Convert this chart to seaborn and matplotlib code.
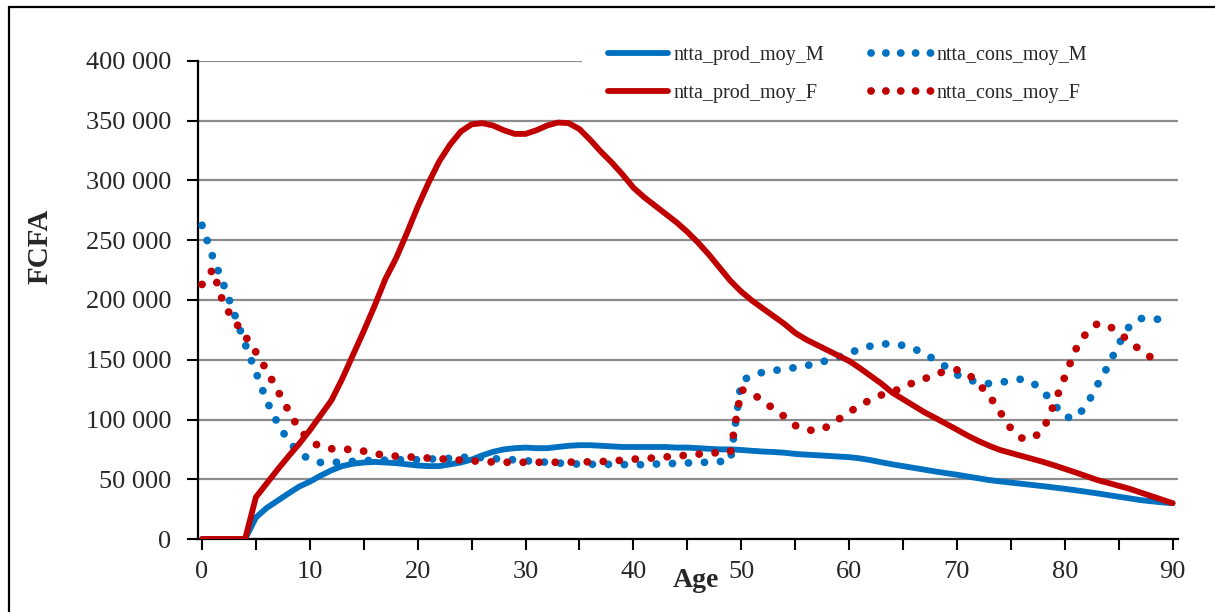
import numpy as np
import pandas as pd
import matplotlib
matplotlib.use("Agg")
import matplotlib.pyplot as plt
import seaborn as sns
from matplotlib.lines import Line2D
from matplotlib.patches import Rectangle
from matplotlib.ticker import FuncFormatter, MultipleLocator

# ---------------- data ----------------
ages = list(range(0, 91))

prod_M = [0, 0, 0, 0, 0, 18000, 26000, 32000, 38000, 43800,
          48000, 53000, 57500, 61000, 63000, 64000, 64500, 64000, 63500, 62500,
          61500, 61000, 61000, 62500, 64000, 66500, 70000, 73000, 75000, 76000,
          76500, 76000, 76000, 77000, 78000, 78500, 78500, 78000, 77500, 77000,
          77000, 77000, 77000, 77000, 76500, 76500, 76000, 75500, 75000, 75000,
          74500, 73800, 73200, 72800, 72200, 71200, 70600, 70100, 69600, 69000,
          68500, 67500, 66000, 64200, 62500, 61000, 59500, 58000, 56500, 55100,
          53800, 52300, 50800, 49300, 48200, 47200, 46200, 45200, 44200, 43100,
          42000, 40800, 39500, 38200, 36800, 35400, 34000, 32600, 31600, 30700,
          29900]

prod_F = [0, 0, 0, 0, 0, 35000, 46500, 58000, 69000, 79500,
          91000, 103500, 116000, 134000, 154000, 174000, 195000, 217500, 235000, 256000,
          278000, 298000, 316000, 330000, 341000, 347000, 348000, 346000, 342000, 339000,
          339000, 342000, 346000, 348500, 348000, 343000, 334000, 324000, 315000, 305000,
          294000, 286000, 279000, 272000, 265000, 257000, 248000, 238000, 227000, 216000,
          207000, 199500, 193000, 186500, 180000, 172500, 167000, 162500, 158000, 153500,
          149000, 143000, 136500, 130000, 122500, 117000, 111500, 106000, 101300, 96400,
          91500, 86500, 82000, 78000, 74500, 72000, 69500, 67000, 64500, 61700,
          58700, 55700, 52600, 49400, 47000, 44500, 42000, 39000, 36000, 33000,
          30000]

cons_M = [262500, 236000, 213000, 188500, 163000, 139500, 115500, 97100, 82300, 72000,
          66500, 64000, 64000, 64500, 65000, 65500, 66000, 66000, 66200, 66500,
          66300, 66800, 67300, 67500, 68200, 68800, 68000, 67300, 66700, 66200,
          65500, 64800, 64200, 63600, 63000, 62700, 62500, 62500, 62500, 62300,
          62000, 62300, 62700, 63000, 63300, 63600, 64000, 64300, 64800, 65500,
          132000, 137000, 139500, 141000, 142000, 143500, 145000, 147000, 149500, 152300,
          155700, 158800, 161500, 163200, 163300, 162000, 159300, 155000, 149800, 144000,
          137500, 133500, 131000, 130000, 131000, 132500, 133800, 131000, 123500, 113000,
          102000, 101500, 111500, 128500, 144500, 163000, 178200, 184500, 184500, 183500,
          186000]

cons_F = [213000, 225500, 196500, 182700, 169900, 156400, 141200, 124400, 107800, 92000,
          82300, 77000, 75500, 75000, 75000, 73500, 71500, 70000, 69300, 68800,
          68300, 67700, 67100, 66600, 66000, 65400, 64900, 64400, 64200, 64200,
          64200, 64200, 64200, 64200, 64300, 64400, 64600, 64800, 65200, 66000,
          66800, 67300, 67900, 68700, 69300, 70200, 71000, 71800, 72300, 73000,
          125000, 122000, 115500, 109000, 102500, 95000, 91500, 90500, 94000, 100000,
          106000, 112000, 116500, 120500, 123000, 127000, 131000, 134000, 138000, 140500,
          141500, 138500, 130000, 120000, 106300, 92500, 84500, 84000, 91300, 112700,
          135600, 158400, 172500, 180000, 179000, 172500, 165500, 158000, 152000, 146400,
          np.nan]

labels = ["ntta_prod_moy_M", "ntta_prod_moy_F", "ntta_cons_moy_M", "ntta_cons_moy_F"]
x_ticks = list(range(0, 91, 10))
y_ticks = list(range(0, 400001, 50000))

# ---------------- figure ----------------
sns.set_style("white")
plt.rcParams['font.family'] = ['Liberation Serif', 'DejaVu Serif']

W, H = 1215, 612
fig = plt.figure(figsize=(W / 100, H / 100), dpi=100)
ax = fig.add_axes([198 / W, 1 - 539 / H, (1178 - 198) / W, (539 - 61) / H])

BLUE = '#0070C0'
RED = '#C00000'
LW_SOLID = 4.2
LW_DOT = 5.6
dot_style = (0, (0.01, 2.05))

df = pd.DataFrame({"age": ages, "prod_M": prod_M, "prod_F": prod_F,
                   "cons_M": cons_M, "cons_F": cons_F})

sns.lineplot(data=df, x="age", y="prod_M", color=BLUE, lw=LW_SOLID, ax=ax, zorder=3)
sns.lineplot(data=df, x="age", y="prod_F", color=RED, lw=LW_SOLID, ax=ax, zorder=4)
sns.lineplot(data=df, x="age", y="cons_M", color=BLUE, lw=LW_DOT, ax=ax,
             linestyle=dot_style, dash_capstyle='round', zorder=3)
sns.lineplot(data=df, x="age", y="cons_F", color=RED, lw=LW_DOT, ax=ax,
             linestyle=dot_style, dash_capstyle='round', zorder=4)

ax.set_xlim(-0.37, 90.5)
ax.set_ylim(0, 400000)
ax.set_xticks(x_ticks)
ax.xaxis.set_minor_locator(MultipleLocator(5))
ax.set_yticks(y_ticks)
ax.yaxis.set_major_formatter(FuncFormatter(lambda v, p: f"{int(v):,}".replace(",", " ")))
ax.set_xlabel("")
ax.set_ylabel("")

ax.tick_params(axis='x', which='both', direction='out', length=8, width=1.5,
               color='black', pad=8, labelsize=19, bottom=True)
ax.tick_params(axis='y', which='both', direction='out', length=8, width=1.5,
               color='black', pad=11, labelsize=19, left=True)

ax.yaxis.grid(True, color='#8c8c8c', lw=1.6)
ax.xaxis.grid(False)
ax.set_axisbelow(True)
for s in ['top', 'right']:
    ax.spines[s].set_visible(False)
for s in ['left', 'bottom']:
    ax.spines[s].set_color('black')
    ax.spines[s].set_linewidth(1.6)

# white mask hiding the top gridline behind the legend area
ax.add_patch(Rectangle((582 / W, 1 - 70 / H), (1185 - 582) / W, 40 / H,
                       transform=fig.transFigure, facecolor='white',
                       edgecolor='none', zorder=2, clip_on=False))

handles = [
    Line2D([], [], color=BLUE, lw=LW_SOLID),
    Line2D([], [], color=RED, lw=LW_SOLID),
    Line2D([], [], color=BLUE, lw=LW_DOT, linestyle=(0, (0.01, 1.9)), dash_capstyle='round'),
    Line2D([], [], color=RED, lw=LW_DOT, linestyle=(0, (0.01, 1.9)), dash_capstyle='round'),
]
leg = ax.legend(handles, labels, ncol=2, loc='upper left',
                bbox_to_anchor=(600 / W, 1 - 38 / H),
                bbox_transform=fig.transFigure, frameon=True, facecolor='white',
                edgecolor='none', framealpha=1, fontsize=14.5, handlelength=3.0,
                handletextpad=0.25, columnspacing=2.3, labelspacing=0.95,
                borderpad=0.4, borderaxespad=0)
leg.set_zorder(10)

fig.text(40 / W, 1 - 246 / H, "FCFA", rotation=90, fontsize=21, fontweight='bold',
         ha='center', va='center')
fig.text(696 / W, 1 - 587 / H, "Age", fontsize=20, fontweight='bold',
         ha='center', va='baseline')

# outer frame (left and top edges visible)
fig.add_artist(Line2D([9 / W, 9 / W], [0, 1 - 7 / H], color='black', lw=1.6))
fig.add_artist(Line2D([9 / W, 1], [1 - 7 / H, 1 - 7 / H], color='black', lw=1.6))

fig.savefig("out.png", dpi=100)
